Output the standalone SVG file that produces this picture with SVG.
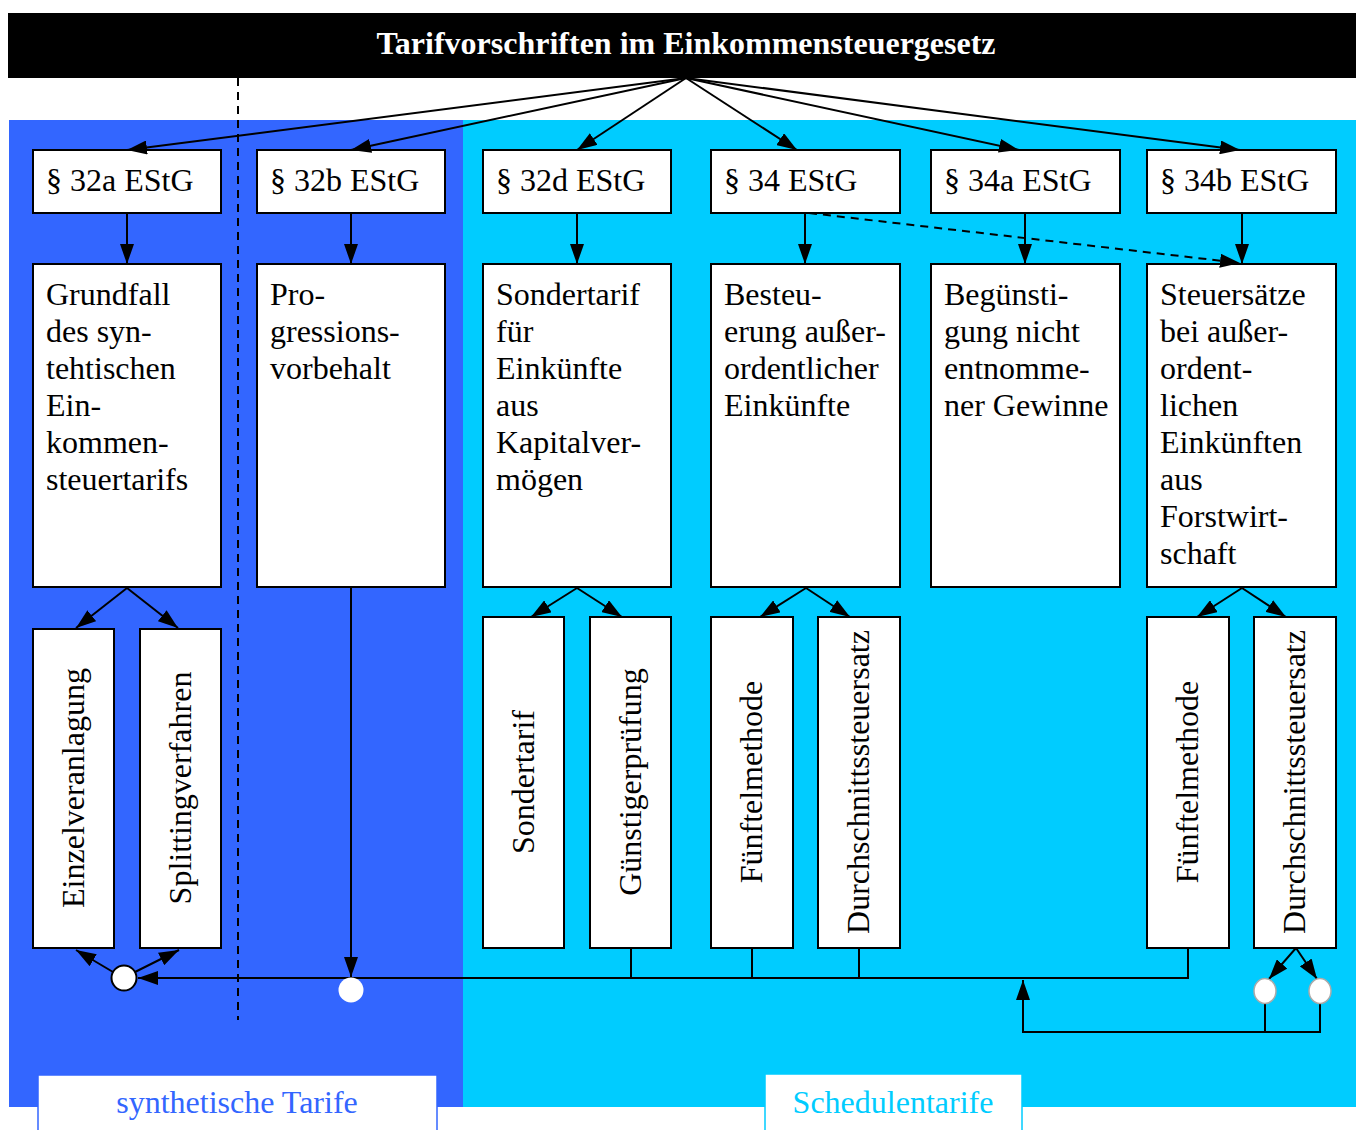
<svg xmlns="http://www.w3.org/2000/svg" width="1356" height="1130" viewBox="0 0 1356 1130">
<defs>
<marker id="ah" markerWidth="20" markerHeight="14" refX="20" refY="7" orient="auto" markerUnits="userSpaceOnUse">
<path d="M0,0 L20,7 L0,14 Z" fill="#000"/>
</marker>
<style>
.box{fill:#fff;stroke:#000;stroke-width:2}
.t{font-family:"Liberation Serif","Times New Roman",serif;font-size:32px;fill:#000}
.c{stroke:#000;stroke-width:2;fill:none}
.a{stroke:#000;stroke-width:2;fill:none;marker-end:url(#ah)}
.v{text-anchor:middle}
</style>
</defs>
<rect x="0" y="0" width="1356" height="1130" fill="#fff"/>
<rect x="9" y="120" width="454" height="987" fill="#3366FF"/>
<rect x="463" y="120" width="893" height="987" fill="#00CCFF"/>
<g id="title">
<rect x="8" y="13" width="1348" height="65" fill="#000"/>
<text x="686" y="54" text-anchor="middle" font-family="Liberation Serif, serif" font-size="32" font-weight="bold" fill="#fff">Tarifvorschriften im Einkommensteuergesetz</text>
</g>
<line x1="238" y1="78" x2="238" y2="1020" stroke="#000" stroke-width="2" stroke-dasharray="8,6"/>
<g id="n32a"><rect class="box" x="33" y="150" width="188" height="63"/><text class="t" x="46" y="191">§ 32a EStG</text></g>
<g id="n32b"><rect class="box" x="257" y="150" width="188" height="63"/><text class="t" x="270" y="191">§ 32b EStG</text></g>
<g id="n32d"><rect class="box" x="483" y="150" width="188" height="63"/><text class="t" x="496" y="191">§ 32d EStG</text></g>
<g id="n34"><rect class="box" x="711" y="150" width="189" height="63"/><text class="t" x="724" y="191">§ 34 EStG</text></g>
<g id="n34a"><rect class="box" x="931" y="150" width="189" height="63"/><text class="t" x="944" y="191">§ 34a EStG</text></g>
<g id="n34b"><rect class="box" x="1147" y="150" width="189" height="63"/><text class="t" x="1160" y="191">§ 34b EStG</text></g>
<g id="grundfall"><rect class="box" x="33" y="264" width="188" height="323"/>
<text class="t" x="46" y="305">Grundfall</text><text class="t" x="46" y="342">des syn-</text><text class="t" x="46" y="379">tehtischen</text><text class="t" x="46" y="416">Ein-</text><text class="t" x="46" y="453">kommen-</text><text class="t" x="46" y="490">steuertarifs</text></g>
<g id="progression"><rect class="box" x="257" y="264" width="188" height="323"/>
<text class="t" x="270" y="305">Pro-</text><text class="t" x="270" y="342">gressions-</text><text class="t" x="270" y="379">vorbehalt</text></g>
<g id="sondertarif-kap"><rect class="box" x="483" y="264" width="188" height="323"/>
<text class="t" x="496" y="305">Sondertarif</text><text class="t" x="496" y="342">für</text><text class="t" x="496" y="379">Einkünfte</text><text class="t" x="496" y="416">aus</text><text class="t" x="496" y="453">Kapitalver-</text><text class="t" x="496" y="490">mögen</text></g>
<g id="besteuerung"><rect class="box" x="711" y="264" width="189" height="323"/>
<text class="t" x="724" y="305">Besteu-</text><text class="t" x="724" y="342">erung außer-</text><text class="t" x="724" y="379">ordentlicher</text><text class="t" x="724" y="416">Einkünfte</text></g>
<g id="beguenstigung"><rect class="box" x="931" y="264" width="189" height="323"/>
<text class="t" x="944" y="305">Begünsti-</text><text class="t" x="944" y="342">gung nicht</text><text class="t" x="944" y="379">entnomme-</text><text class="t" x="944" y="416">ner Gewinne</text></g>
<g id="steuersaetze"><rect class="box" x="1147" y="264" width="189" height="323"/>
<text class="t" x="1160" y="305">Steuersätze</text><text class="t" x="1160" y="342">bei außer-</text><text class="t" x="1160" y="379">ordent-</text><text class="t" x="1160" y="416">lichen</text><text class="t" x="1160" y="453">Einkünften</text><text class="t" x="1160" y="490">aus</text><text class="t" x="1160" y="527">Forstwirt-</text><text class="t" x="1160" y="564">schaft</text></g>
<g id="einzel"><rect class="box" x="33" y="629" width="81" height="319"/><text class="t v" transform="translate(73.5,788) rotate(-90)" y="10">Einzelveranlagung</text></g>
<g id="splitting"><rect class="box" x="140" y="629" width="81" height="319"/><text class="t v" transform="translate(180.5,788) rotate(-90)" y="10">Splittingverfahren</text></g>
<g id="sonder"><rect class="box" x="483" y="617" width="81" height="331"/><text class="t v" transform="translate(523.5,782) rotate(-90)" y="10">Sondertarif</text></g>
<g id="guenstiger"><rect class="box" x="590" y="617" width="81" height="331"/><text class="t v" transform="translate(630.5,782) rotate(-90)" y="10">Günstigerprüfung</text></g>
<g id="fuenftel1"><rect class="box" x="711" y="617" width="82" height="331"/><text class="t v" transform="translate(752,782) rotate(-90)" y="10">Fünftelmethode</text></g>
<g id="durch1"><rect class="box" x="818" y="617" width="82" height="331"/><text class="t v" transform="translate(859,782) rotate(-90)" y="10">Durchschnittssteuersatz</text></g>
<g id="fuenftel2"><rect class="box" x="1147" y="617" width="82" height="331"/><text class="t v" transform="translate(1188,782) rotate(-90)" y="10">Fünftelmethode</text></g>
<g id="durch2"><rect class="box" x="1254" y="617" width="82" height="331"/><text class="t v" transform="translate(1295,782) rotate(-90)" y="10">Durchschnittssteuersatz</text></g>
<g id="connectors">
<line class="a" x1="686" y1="78" x2="127" y2="150"/>
<line class="a" x1="686" y1="78" x2="351" y2="150"/>
<line class="a" x1="686" y1="78" x2="577" y2="150"/>
<line class="a" x1="686" y1="78" x2="797" y2="150"/>
<line class="a" x1="686" y1="78" x2="1019" y2="150"/>
<line class="a" x1="686" y1="78" x2="1240" y2="150"/>
<line class="a" x1="127" y1="213" x2="127" y2="264"/>
<line class="a" x1="351" y1="213" x2="351" y2="264"/>
<line class="a" x1="577" y1="213" x2="577" y2="264"/>
<line class="a" x1="805" y1="213" x2="805" y2="264"/>
<line class="a" x1="1025" y1="213" x2="1025" y2="264"/>
<line class="a" x1="1242" y1="213" x2="1242" y2="264"/>
<line class="a" x1="809" y1="213" x2="1240" y2="263" stroke-dasharray="8,6"/>
<line class="a" x1="127" y1="588" x2="76" y2="628"/>
<line class="a" x1="127" y1="588" x2="178" y2="628"/>
<line class="a" x1="577" y1="588" x2="531" y2="617"/>
<line class="a" x1="577" y1="588" x2="622" y2="617"/>
<line class="a" x1="806" y1="588" x2="760" y2="617"/>
<line class="a" x1="806" y1="588" x2="850" y2="617"/>
<line class="a" x1="1242" y1="588" x2="1197" y2="617"/>
<line class="a" x1="1242" y1="588" x2="1286" y2="617"/>
<line class="a" x1="351" y1="587" x2="351" y2="977"/>
<polyline class="a" points="1188,948 1188,978 138,978"/>
<line class="c" x1="631" y1="948" x2="631" y2="978"/>
<line class="c" x1="752" y1="948" x2="752" y2="978"/>
<line class="c" x1="859" y1="948" x2="859" y2="978"/>
<line class="a" x1="113" y1="972" x2="76" y2="950"/>
<line class="a" x1="135" y1="972" x2="179" y2="950"/>
<line class="a" x1="1296" y1="948" x2="1269" y2="979"/>
<line class="a" x1="1296" y1="948" x2="1317" y2="979"/>
<polyline class="a" points="1265,1003 1265,1032 1320,1032 1320,1003 1320,1032 1023,1032 1023,980"/>
</g>
<g id="joins">
<circle cx="124" cy="978" r="12.5" fill="#fff" stroke="#000" stroke-width="2"/>
<circle cx="351" cy="990" r="12.5" fill="#fff"/>
<ellipse cx="1265" cy="991" rx="11" ry="12.5" fill="#fff" stroke="#aaa" stroke-width="1.5"/>
<ellipse cx="1320" cy="991" rx="11" ry="12.5" fill="#fff" stroke="#aaa" stroke-width="1.5"/>
</g>
<g id="label-synth">
<rect x="38" y="1075" width="399" height="62" fill="#fff" stroke="#3366FF" stroke-width="1.5"/>
<text x="237" y="1113" text-anchor="middle" font-family="Liberation Serif, serif" font-size="32" fill="#3366FF">synthetische Tarife</text>
</g>
<g id="label-sched">
<rect x="765" y="1074" width="257" height="63" fill="#fff" stroke="#00CCFF" stroke-width="1.5"/>
<text x="893" y="1113" text-anchor="middle" font-family="Liberation Serif, serif" font-size="32" fill="#00CCFF">Schedulentarife</text>
</g>
</svg>
